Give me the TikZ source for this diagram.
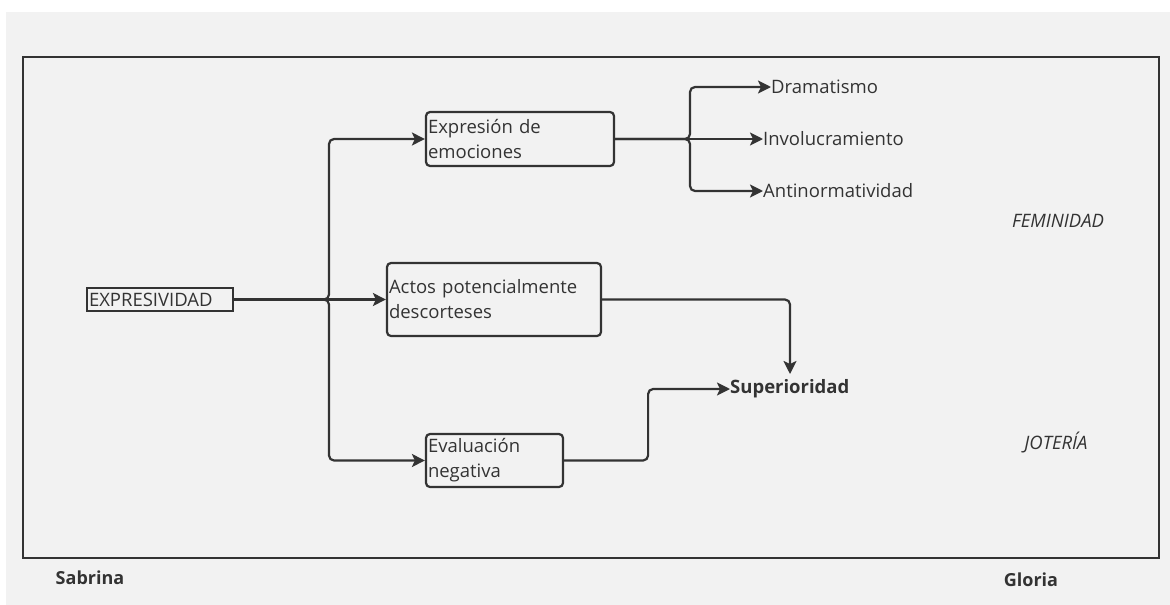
\documentclass[tikz,border=0pt]{standalone}
\usepackage{fontspec}
\setmainfont{Open Sans}
\usetikzlibrary{arrows.meta}

\definecolor{ink}{HTML}{333333}
\definecolor{paper}{HTML}{F2F2F2}

\begin{document}
\begin{tikzpicture}[x=1pt, y=-1pt,
  every node/.style={text=ink, font=\fontsize{18.5}{25}\selectfont},
  frame/.style={draw=ink, line width=2.2pt},
  box/.style={draw=ink, line width=2.2pt, rounded corners=4pt, align=left,
    inner xsep=2pt, inner ysep=0pt},
  rootbox/.style={draw=ink, line width=2.2pt, align=left, inner xsep=2pt,
    inner ysep=0pt, minimum height=23pt, text width=142pt},
  leaf/.style={anchor=west, inner sep=0pt},
  tag/.style={inner sep=0pt, font=\fontsize{18.5}{20}\selectfont\itshape},
  who/.style={inner sep=0pt, font=\fontsize{18}{20}\selectfont\bfseries},
  conn/.style={draw=ink, line width=2.2pt, rounded corners=5pt,
    -{Stealth[length=13pt, width=13pt, inset=3pt]}},
]
  \useasboundingbox (0,0) rectangle (1170,605);
  \fill[paper] (6,12) rectangle (1170,605);
  \draw[frame] (23,57) rectangle (1159,558);

  % nodes
  \node[rootbox] (ex) at (160,299.5) {EXPRESIVIDAD};
  \node[box, text width=184pt, minimum height=54pt] (emo) at (520,139) {Expresión de\\emociones};
  \node[box, text width=210pt, minimum height=73pt] (act) at (494,299.5) {Actos potencialmente\\descorteses};
  \node[box, text width=133pt, minimum height=53pt] (eva) at (494.5,460.5) {Evaluación\\negativa};

  \node[leaf] (dram) at (771,87) {Dramatismo};
  \node[leaf] (inv) at (763,139) {Involucramiento};
  \node[leaf] (anti) at (763,191) {Antinormatividad};
  \node[leaf, font=\fontsize{18.5}{25}\selectfont\bfseries] (sup) at (730,389) {Superioridad};

  \node[tag] (fem) at (1058,221) {FEMINIDAD};
  \node[tag] (jot) at (1056,442) {JOTERÍA};
  \node[who] (sab) at (90,578) {Sabrina};
  \node[who] (glo) at (1031,580) {Gloria};

  \coordinate (split) at (329,299.5);
  \coordinate (fork) at (690,139);
  \coordinate (supin) at (790,374);

  % connectors
  \draw[conn] (ex.east) -- (split) |- (emo.west);
  \draw[conn] (ex.east) -- (act.west);
  \draw[conn] (ex.east) -- (split) |- (eva.west);
  \draw[conn] (emo.east) -- (fork) |- (dram.west);
  \draw[conn] (emo.east) -- (inv.west);
  \draw[conn] (emo.east) -- (fork) |- (anti.west);
  \draw[conn] (act.east) -| (supin);
  \draw[conn] (eva.east) -- ++(84,0) |- (sup.west);
\end{tikzpicture}
\end{document}
